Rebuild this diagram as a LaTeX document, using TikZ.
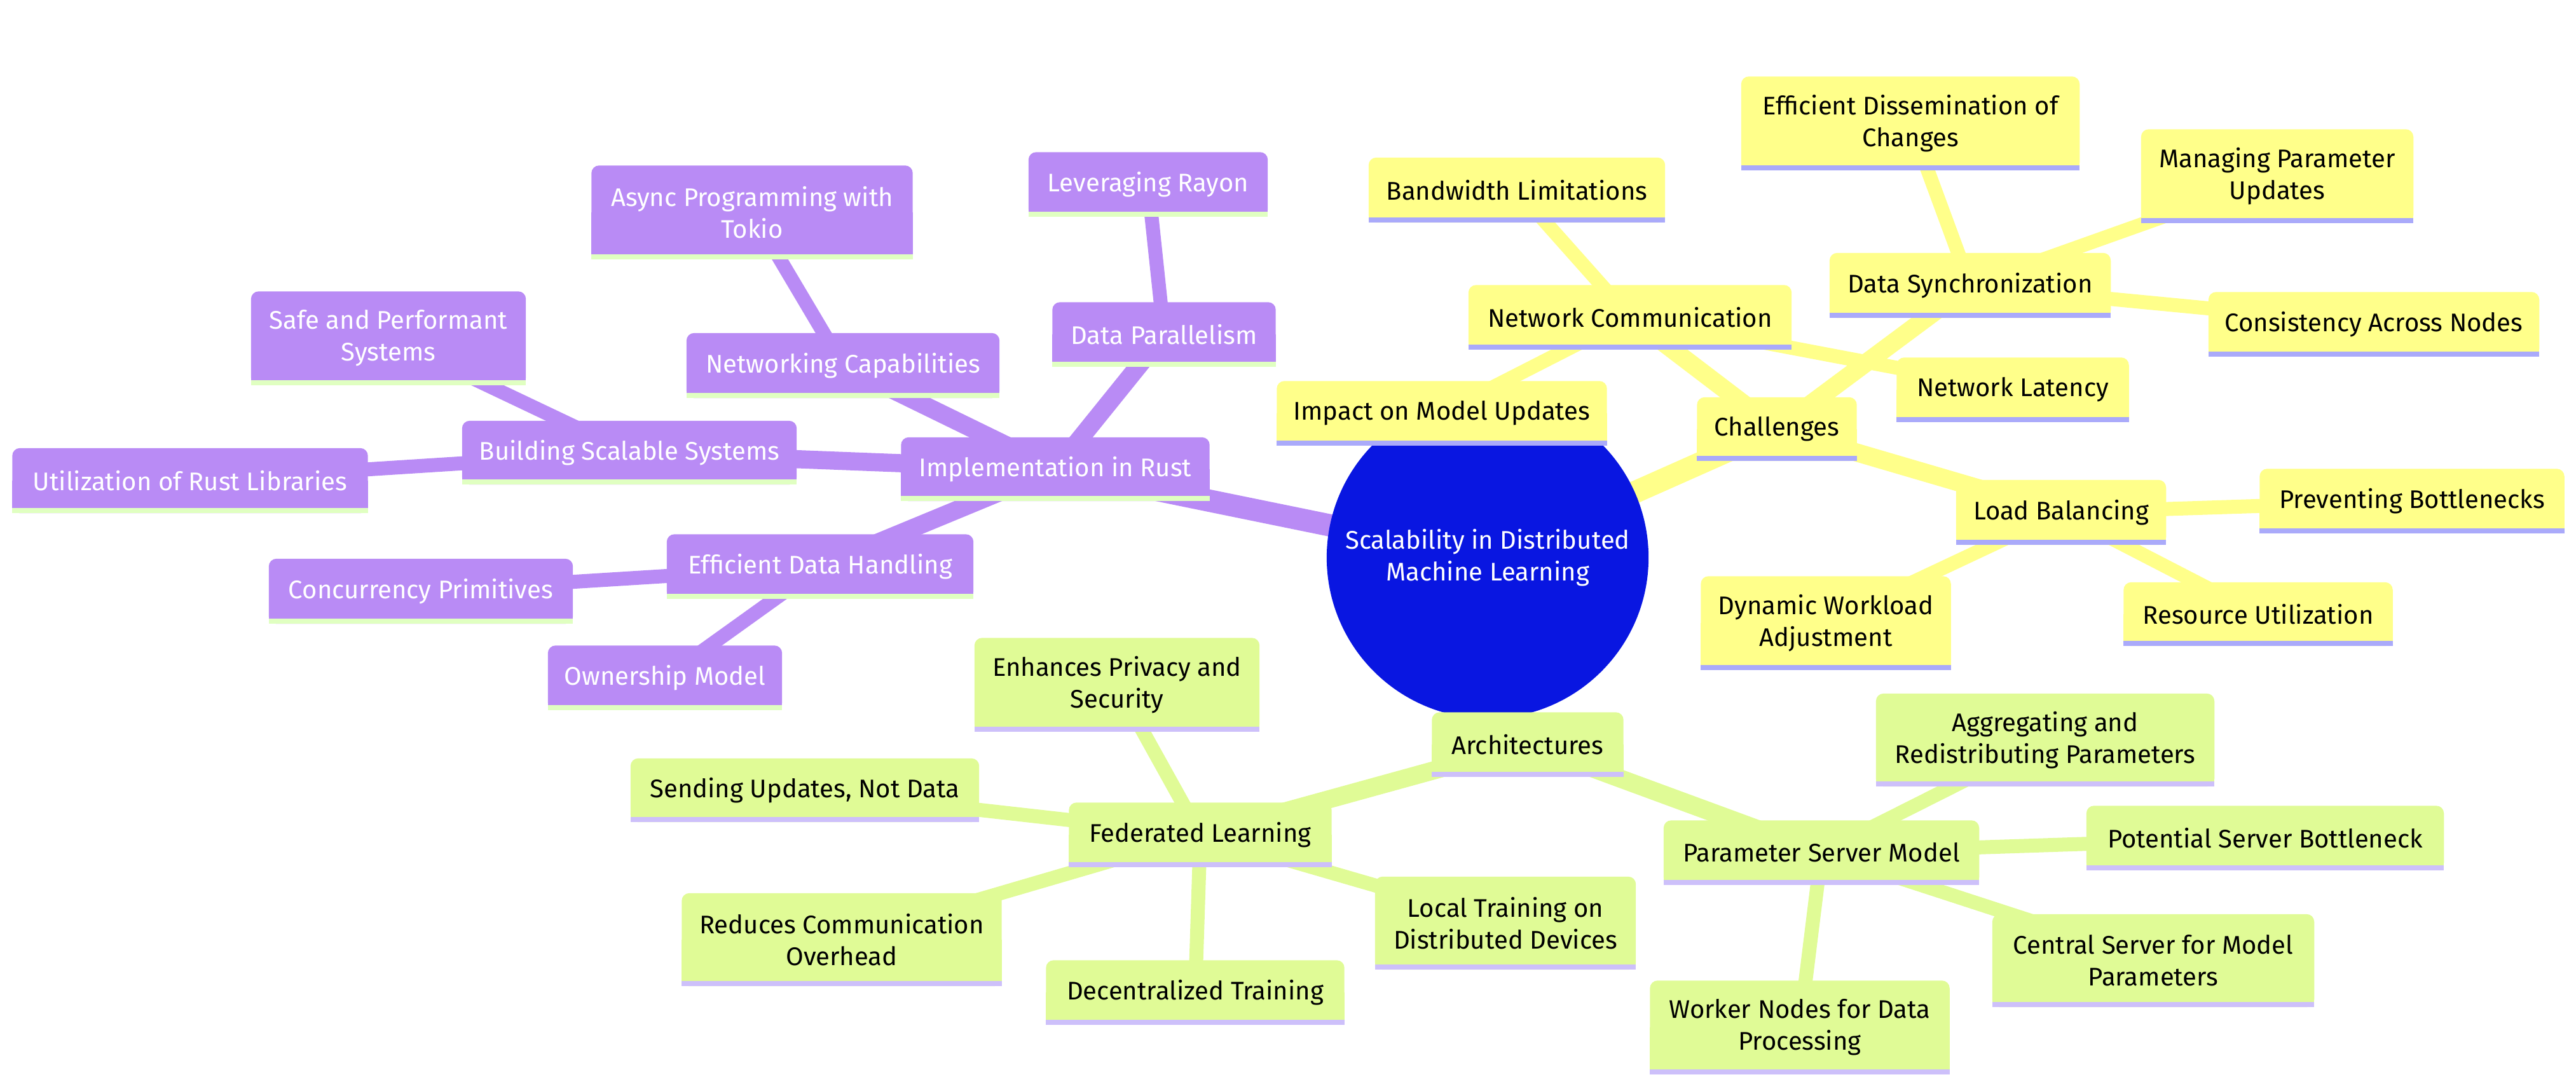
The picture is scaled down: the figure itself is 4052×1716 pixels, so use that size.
\documentclass[tikz,border=0pt]{standalone}
\usepackage{fontspec}
\setmainfont{Fira Sans}
\usetikzlibrary{backgrounds}

\definecolor{rootfill}{RGB}{9,22,225}
\definecolor{rustfill}{RGB}{185,139,245}
\definecolor{rustline}{RGB}{224,255,193}
\definecolor{chalfill}{RGB}{255,255,138}
\definecolor{challine}{RGB}{170,170,250}
\definecolor{archfill}{RGB}{224,251,150}
\definecolor{archline}{RGB}{205,192,250}

\tikzset{
  mm/.style={inner sep=0pt, align=center, font=\fontsize{11.4}{14.2}\selectfont},
  sz/.style 2 args={minimum width=#1*0.01cm, minimum height=#2*0.01cm},
  rust/.style={mm, text=white},
  dark/.style={mm, text=black},
  e0/.style={line width=0.35cm},
  e1/.style={line width=0.285cm},
  e2/.style={line width=0.22cm},
}

% box with round top corners and a stripe at the bottom
\newcommand\mmbox[3]{%
  \fill[#2, rounded corners=0.12cm] (#1.south west) rectangle (#1.north east);
  \fill[#2] (#1.south west) rectangle (#1.east);
  \fill[#3] (#1.south west) rectangle ([yshift=0.08cm]#1.south east);
}

\begin{document}
\begin{tikzpicture}[x=0.01cm, y=-0.01cm]
\useasboundingbox (0,0) rectangle (4052,1716);

\node[mm, text=white] (root) at (2340,877) {Scalability in Distributed\\Machine Learning};

% Implementation in Rust
\node[rust, sz={484}{99}] (impl) at (1660,738) {Implementation in Rust};
\node[rust, sz={350}{100}] (dpar) at (1831,526) {Data Parallelism};
\node[rust, sz={375}{100}] (rayon) at (1806,290) {Leveraging Rayon};
\node[rust, sz={491}{101}] (netcap) at (1326,575) {Networking Capabilities};
\node[rust, sz={504}{146}] (tokio) at (1183,334) {Async Programming with\\Tokio};
\node[rust, sz={525}{99}] (build) at (990,712) {Building Scalable Systems};
\node[rust, sz={431}{146}] (safe) at (611,532) {Safe and Performant\\Systems};
\node[rust, sz={558}{101}] (utillib) at (299,756) {Utilization of Rust Libraries};
\node[rust, sz={481}{100}] (effdata) at (1290,891) {Efficient Data Handling};
\node[rust, sz={477}{101}] (concur) at (662,930) {Concurrency Primitives};
\node[rust, sz={367}{100}] (owner) at (1046,1066) {Ownership Model};

% Challenges
\node[dark, sz={250}{99}] (chall) at (2795,675) {Challenges};
\node[dark, sz={507}{100}] (netcom) at (2564,499) {Network Communication};
\node[dark, sz={465}{101}] (bandw) at (2386,299) {Bandwidth Limitations};
\node[dark, sz={364}{100}] (latency) at (3166,613) {Network Latency};
\node[dark, sz={518}{100}] (impact) at (2268,650) {Impact on Model Updates};
\node[dark, sz={441}{101}] (datasync) at (3099,449) {Data Synchronization};
\node[dark, sz={531}{146}] (dissem) at (3005,194) {Efficient Dissemination of\\Changes};
\node[dark, sz={427}{146}] (managing) at (3582,277) {Managing Parameter\\Updates};
\node[dark, sz={519}{100}] (consist) at (3734,510) {Consistency Across Nodes};
\node[dark, sz={329}{101}] (loadbal) at (3242,806) {Load Balancing};
\node[dark, sz={478}{100}] (prevent) at (3794,788) {Preventing Bottlenecks};
\node[dark, sz={422}{99}] (resource) at (3552,966) {Resource Utilization};
\node[dark, sz={392}{146}] (dynamic) at (2872,980) {Dynamic Workload\\Adjustment};

% Architectures
\node[dark, sz={300}{100}] (arch) at (2403,1171) {Architectures};
\node[dark, sz={412}{100}] (fed) at (1888,1313) {Federated Learning};
\node[dark, sz={447}{146}] (privacy) at (1757,1077) {Enhances Privacy and\\Security};
\node[dark, sz={547}{99}] (sending) at (1266,1243) {Sending Updates, Not Data};
\node[dark, sz={502}{145}] (reduces) at (1324,1478) {Reduces Communication\\Overhead};
\node[dark, sz={468}{100}] (decent) at (1880,1561) {Decentralized Training};
\node[dark, sz={409}{145}] (localtr) at (2368,1452) {Local Training on\\Distributed Devices};
\node[dark, sz={495}{100}] (psm) at (2865,1341) {Parameter Server Model};
\node[dark, sz={531}{145}] (aggreg) at (3217,1164) {Aggregating and\\Redistributing Parameters};
\node[dark, sz={561}{100}] (potential) at (3563,1318) {Potential Server Bottleneck};
\node[dark, sz={505}{145}] (central) at (3387,1511) {Central Server for Model\\Parameters};
\node[dark, sz={470}{146}] (worker) at (2831,1616) {Worker Nodes for Data\\Processing};

\begin{pgfonlayer}{background}
% edges
\draw[e0, rustfill] (root.center) -- (impl.center);
\draw[e0, chalfill] (root.center) -- (chall.center);
\draw[e0, archfill] (root.center) -- (arch.center);
\foreach \a/\b in {impl/dpar, impl/netcap, impl/build, impl/effdata}
  \draw[e1, rustfill] (\a.center) -- (\b.center);
\foreach \a/\b in {dpar/rayon, netcap/tokio, build/safe, build/utillib,
    effdata/concur, effdata/owner}
  \draw[e2, rustfill] (\a.center) -- (\b.center);
\foreach \a/\b in {chall/netcom, chall/datasync, chall/loadbal}
  \draw[e1, chalfill] (\a.center) -- (\b.center);
\foreach \a/\b in {netcom/bandw, netcom/latency, netcom/impact,
    datasync/dissem, datasync/managing, datasync/consist,
    loadbal/prevent, loadbal/resource, loadbal/dynamic}
  \draw[e2, chalfill] (\a.center) -- (\b.center);
\foreach \a/\b in {arch/fed, arch/psm}
  \draw[e1, archfill] (\a.center) -- (\b.center);
\foreach \a/\b in {fed/privacy, fed/sending, fed/reduces, fed/decent, fed/localtr,
    psm/aggreg, psm/potential, psm/central, psm/worker}
  \draw[e2, archfill] (\a.center) -- (\b.center);

% root circle
\fill[rootfill] (root.center) circle (2.53cm);

% boxes
\foreach \n in {impl, dpar, rayon, netcap, tokio, build, safe, utillib,
    effdata, concur, owner}
  {\mmbox{\n}{rustfill}{rustline}}
\foreach \n in {chall, netcom, bandw, latency, impact, datasync, dissem,
    managing, consist, loadbal, prevent, resource, dynamic}
  {\mmbox{\n}{chalfill}{challine}}
\foreach \n in {arch, fed, privacy, sending, reduces, decent, localtr,
    psm, aggreg, potential, central, worker}
  {\mmbox{\n}{archfill}{archline}}
\end{pgfonlayer}
\end{tikzpicture}
\end{document}
